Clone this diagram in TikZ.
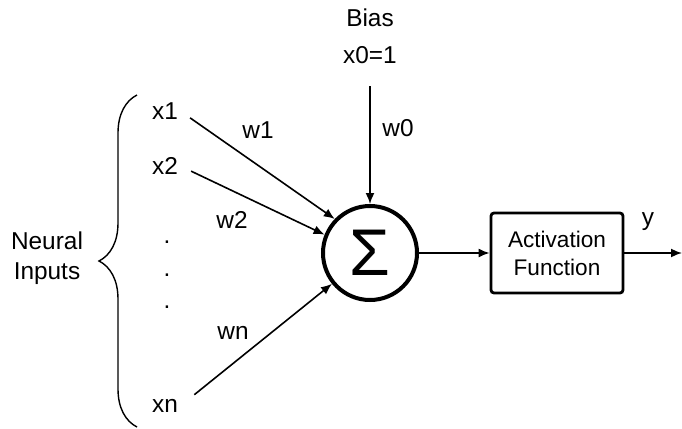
\documentclass[tikz,border=0pt]{standalone}
\usepackage{fontspec}
\setmainfont{Liberation Sans}
\usepackage{tikz}
\usetikzlibrary{arrows.meta, decorations.pathreplacing}

\tikzset{
    lbl/.style={font=\fontsize{12.2}{15}\selectfont, inner sep=1pt},
    wire/.style={->, line width=0.8pt},
}

\begin{document}
\begin{tikzpicture}[x=0.5pt, y=-0.5pt, >={Latex[length=5.5pt,width=4.5pt]}]
    \useasboundingbox (0,0) rectangle (682,429);
    % summing unit and activation
    \node[circle, draw, line width=2pt, minimum size=47pt, inner sep=0pt] (sum) at (370,253) {\fontsize{33}{33}\selectfont Σ};
    \node[draw, line width=1.4pt, rounded corners=1.5pt, minimum width=66pt, minimum height=40pt, align=center, font=\fontsize{11.3}{14}\selectfont] (act) at (557,253) {Activation\\Function};
    \coordinate (out) at (682,253);
    % bias
    \node[lbl] (bias) at (370,18) {Bias};
    \node[lbl] (xzero) at (370,55) {x0=1};
    % inputs
    \node[lbl] (x1) at (165,111) {x1};
    \node[lbl] (x2) at (165,166) {x2};
    \node[lbl] (d1) at (167,242) {.};
    \node[lbl] (d2) at (167,275) {.};
    \node[lbl] (d3) at (167,307) {.};
    \node[lbl] (xn) at (165,406) {xn};
    \draw[line width=0.7pt, decorate, decoration={brace, amplitude=19pt}] (137,427) -- (137,95);
    \node[lbl, align=center] (neural) at (47,258) {Neural\\Inputs};
    % weighted connections
    \draw[wire, shorten <=6pt] (x1.east) -- (sum.136);
    \node[lbl] (w1) at (258,130) {w1};
    \draw[wire, shorten <=6pt] (x2.east) -- (sum.158);
    \node[lbl] (w2) at (232,220) {w2};
    \draw[wire, shorten <=9pt] (xn.east) -- (sum.219);
    \node[lbl] (wn) at (233,333) {wn};
    \draw[wire, shorten <=10pt] (xzero.south) -- (sum.north);
    \node[lbl] (w0) at (398,128) {w0};
    \draw[wire] (sum.east) -- (act.west);
    \draw[wire] (act.east) -- (out);
    \node[lbl] (y) at (648,222) {y};
\end{tikzpicture}
\end{document}
